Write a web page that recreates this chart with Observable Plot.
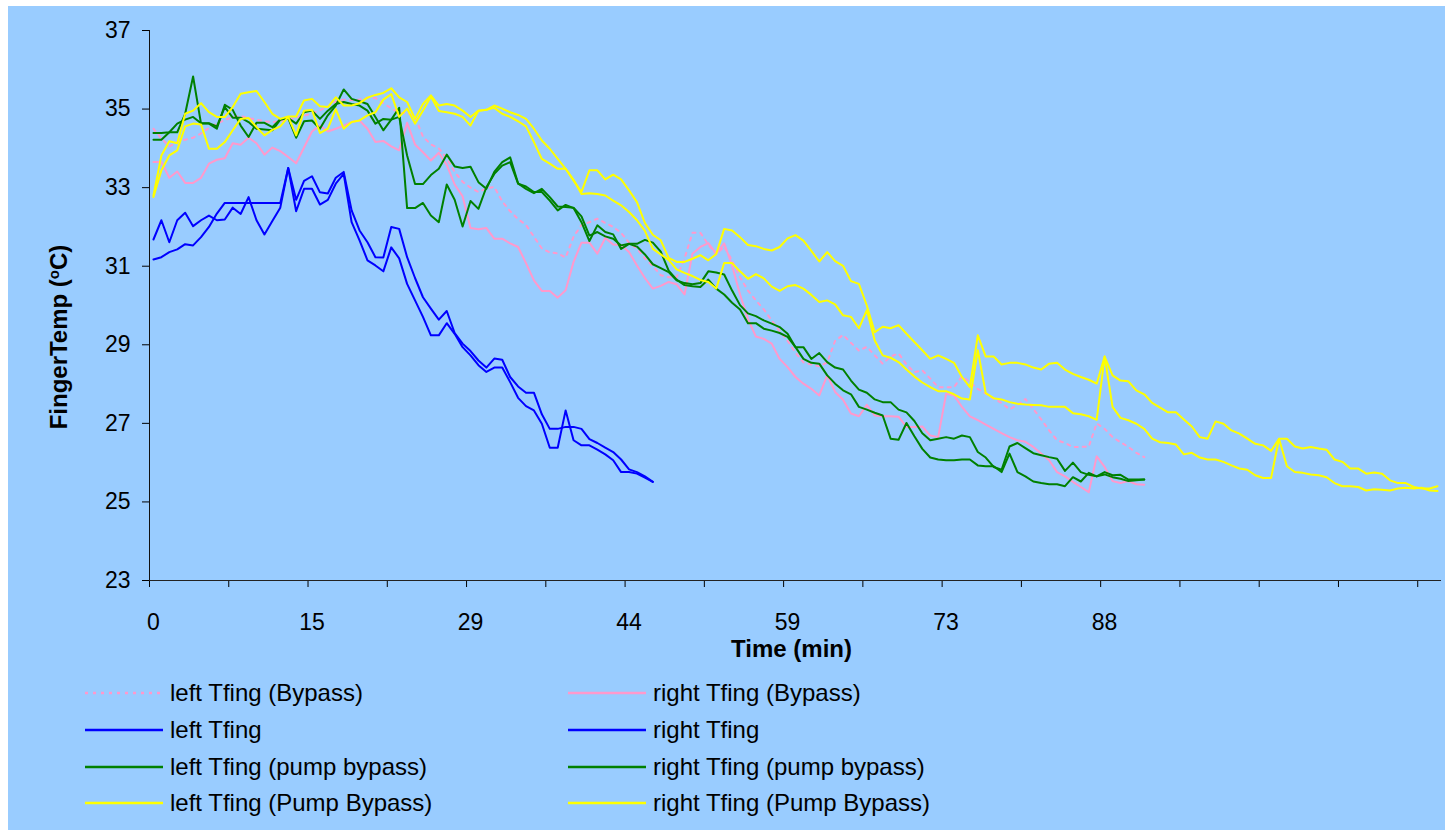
<!DOCTYPE html>
<html><head><meta charset="utf-8">
<script src="https://cdn.jsdelivr.net/npm/d3@7"></script>
<script src="https://cdn.jsdelivr.net/npm/@observablehq/plot@0.6"></script>
<style>
html,body{margin:0;padding:0;background:#fff;}
#chart{position:absolute;left:8px;top:6px;width:1437px;height:824px;background:#99CCFF;overflow:hidden;font-family:"Liberation Sans",Arial,sans-serif;}
#plot{position:absolute;left:0;top:0;}
.leg{position:absolute;display:flex;align-items:center;height:30px;font-size:24px;color:#000;white-space:nowrap;}
.leg svg{margin-right:7px;}
</style></head><body>
<div id="chart"><div id="plot"></div><div id="legend"></div></div>
<script>
// Category axis: one category per sample; labels shown every 20 samples
const xTickCategories = [0, 20, 40, 60, 80, 100, 120];
const xTickLabels = ["0", "15", "29", "44", "59", "73", "88"];
const yTicks = [23, 25, 27, 29, 31, 33, 35, 37];

const leftBypass = [34.50,34.25,34.05,34.16,34.22,34.27,34.38,34.52,34.63,34.72,
 34.80,34.82,34.77,34.73,34.69,34.67,34.69,34.73,34.78,34.83,
 34.89,34.97,35.06,35.19,35.24,35.23,35.24,35.29,35.28,35.15,
 35.02,34.90,34.90,34.80,34.30,34.10,34.00,33.75,33.40,33.15,
 33.00,32.89,32.98,33.02,32.65,32.40,32.20,32.05,31.75,31.45,
 31.35,31.33,31.22,31.75,32.05,32.12,32.21,32.10,32.00,31.85,
 31.60,31.45,31.20,31.00,30.77,30.72,30.72,31.20,31.85,31.85,
 31.55,31.30,31.50,31.15,30.72,30.38,30.13,29.90,29.62,29.35,
 29.10,28.80,28.55,28.50,28.45,28.55,29.10,29.25,29.05,28.85,
 28.95,28.73,28.52,28.70,28.78,28.50,28.30,28.35,28.14,27.92,
 27.92,27.92,28.20,28.05,27.88,27.76,27.63,27.52,27.36,27.46,
 27.62,27.37,27.10,26.82,26.57,26.50,26.40,26.40,26.41,27.00,
 26.86,26.65,26.52,26.40,26.25,26.14];

const rightBypass = [33.65,33.65,33.25,33.41,33.12,33.12,33.25,33.61,33.71,33.75,
 34.13,34.09,34.27,34.13,33.84,34.02,33.93,33.78,33.62,34.02,
 34.43,34.58,34.43,34.50,34.58,34.67,34.71,34.50,34.16,34.19,
 34.05,33.95,34.65,34.10,33.90,33.69,33.89,33.58,33.08,32.78,
 31.97,31.94,31.97,31.70,31.70,31.58,31.49,31.08,30.64,30.37,
 30.37,30.20,30.39,31.11,31.60,31.60,31.32,31.72,31.55,31.54,
 31.36,31.02,30.70,30.43,30.50,30.60,30.54,30.28,31.32,31.49,
 31.59,31.32,31.58,31.02,30.28,29.66,29.21,29.15,29.03,28.64,
 28.43,28.18,28.01,27.88,27.71,28.22,27.80,27.60,27.25,27.18,
 27.47,27.20,27.18,27.18,27.17,26.91,26.91,26.92,26.69,26.65,
 27.75,27.71,27.42,27.18,27.08,26.97,26.86,26.75,26.65,26.57,
 26.53,26.40,26.23,26.06,25.76,25.65,25.51,25.38,25.25,26.16,
 25.89,25.53,25.48,25.53,25.45,25.44];

const leftTfing = [31.68,32.17,31.61,32.17,32.36,32.02,32.17,32.29,32.17,32.19,
 32.49,32.33,32.76,32.17,31.81,32.15,32.49,33.50,32.69,33.17,
 33.29,32.88,32.85,33.25,33.40,32.42,31.91,31.61,31.23,31.22,
 32.00,31.95,31.23,30.70,30.21,29.92,29.64,29.86,29.30,29.03,
 28.84,28.60,28.42,28.65,28.62,28.18,27.94,27.78,27.78,27.23,
 26.86,26.86,26.91,26.91,26.86,26.60,26.50,26.38,26.27,26.08,
 25.83,25.76,25.65,25.51];

const rightTfing = [31.17,31.23,31.36,31.43,31.56,31.53,31.74,32.00,32.34,32.61,
 32.61,32.61,32.61,32.61,32.61,32.61,32.61,33.50,32.40,32.97,
 32.97,32.57,32.69,33.10,33.35,32.12,31.66,31.15,31.02,30.87,
 31.48,31.20,30.55,30.13,29.71,29.24,29.24,29.55,29.28,28.94,
 28.73,28.48,28.31,28.42,28.42,28.05,27.65,27.44,27.33,26.99,
 26.38,26.38,27.33,26.57,26.44,26.44,26.33,26.21,26.06,25.76,
 25.76,25.72,25.62,25.51];

const leftPump = [34.22,34.22,34.41,34.41,34.88,35.83,34.63,34.63,34.50,35.11,
 34.98,34.58,34.29,34.65,34.65,34.54,34.74,34.77,34.27,34.69,
 34.71,34.50,34.84,35.09,35.50,35.26,35.20,35.13,34.80,34.46,
 34.73,35.03,32.48,32.48,32.61,32.29,32.12,33.08,32.69,32.01,
 32.66,32.46,33.01,33.35,33.56,33.65,33.10,33.03,32.89,32.89,
 32.67,32.42,32.56,32.48,32.12,31.64,32.04,31.87,31.81,31.44,
 31.57,31.57,31.67,31.60,31.37,30.89,30.66,30.52,30.49,30.47,
 30.66,30.43,30.28,30.07,29.90,29.55,29.55,29.41,29.36,29.30,
 29.20,28.94,28.94,28.64,28.79,28.56,28.42,28.37,28.09,27.86,
 27.78,27.61,27.54,27.54,27.35,27.28,27.06,26.75,26.57,26.61,
 26.65,26.61,26.69,26.65,26.27,26.13,25.89,25.82,26.41,26.50,
 26.37,26.24,26.19,26.14,26.10,25.79,26.00,25.76,25.69,25.65,
 25.76,25.68,25.69,25.57,25.57,25.57];

const rightPump = [34.39,34.39,34.41,34.63,34.73,34.80,34.64,34.64,34.56,35.05,
 34.78,34.78,34.67,34.50,34.48,34.46,34.73,34.77,34.63,34.92,
 34.96,34.75,34.96,35.13,35.18,35.13,35.09,34.96,34.63,34.75,
 34.73,34.80,33.82,33.09,33.09,33.32,33.48,33.84,33.54,33.50,
 33.53,33.14,32.97,33.40,33.65,33.77,33.11,32.97,32.86,32.97,
 32.76,32.52,32.51,32.49,32.27,31.78,31.87,31.76,31.70,31.53,
 31.57,31.50,31.30,31.05,30.95,30.85,30.64,30.57,30.54,30.57,
 30.87,30.84,30.79,30.38,30.01,29.80,29.73,29.62,29.54,29.45,
 29.28,28.94,28.64,28.54,28.52,28.22,28.01,27.84,27.74,27.42,
 27.35,27.27,27.20,26.61,26.58,27.01,26.67,26.35,26.13,26.08,
 26.06,26.06,26.08,26.08,25.93,25.91,25.91,25.76,26.23,25.76,
 25.65,25.52,25.48,25.45,25.45,25.40,25.63,25.52,25.74,25.65,
 25.70,25.63,25.59,25.53,25.55,25.57];

const leftPumpB = [32.80,33.82,34.18,34.13,34.88,34.96,35.15,34.92,34.80,34.80,
 35.05,35.39,35.43,35.46,35.18,34.88,34.75,34.81,34.81,35.22,
 35.26,35.07,35.05,35.30,35.09,35.09,35.15,35.29,35.36,35.41,
 35.53,35.30,35.18,34.75,35.13,35.35,35.09,35.13,35.09,34.96,
 34.80,34.96,34.98,35.09,35.01,34.92,34.85,34.75,34.50,34.20,
 33.99,33.73,33.48,33.18,32.89,33.44,33.44,33.21,33.33,33.21,
 32.93,32.63,32.10,31.80,31.66,31.21,31.11,31.11,31.19,31.28,
 31.15,31.31,31.95,31.91,31.74,31.54,31.51,31.44,31.40,31.49,
 31.71,31.79,31.65,31.39,31.12,31.36,31.13,31.01,30.62,30.55,
 30.00,29.32,29.46,29.42,29.50,29.28,29.07,28.86,28.64,28.73,
 28.64,28.54,28.18,27.92,29.24,28.70,28.70,28.50,28.54,28.54,
 28.50,28.42,28.37,28.52,28.54,28.37,28.26,28.18,28.11,28.01,
 28.70,28.22,28.09,28.07,27.84,27.74,27.52,27.40,27.28,27.28,
 27.10,26.92,26.65,26.61,27.05,26.99,26.82,26.74,26.61,26.48,
 26.44,26.30,26.61,26.61,26.41,26.36,26.40,26.36,26.33,26.08,
 26.02,25.85,25.85,25.72,25.75,25.72,25.55,25.48,25.48,25.38,
 25.34,25.34,25.40];

const rightPumpB = [32.76,33.44,33.82,33.95,34.56,34.63,34.61,33.99,33.99,34.16,
 34.46,34.75,34.77,34.54,34.33,34.47,34.56,34.80,34.33,34.96,
 34.98,34.39,34.50,35.00,34.50,34.67,34.71,34.84,34.92,35.24,
 35.38,34.80,35.01,34.63,34.96,35.32,34.95,34.92,34.88,34.80,
 34.58,34.96,34.98,35.03,34.88,34.80,34.69,34.56,34.16,33.73,
 33.61,33.48,33.48,33.20,32.84,32.86,32.84,32.80,32.67,32.55,
 32.38,32.17,31.90,31.44,31.30,31.16,30.92,30.83,30.75,30.65,
 30.60,30.43,31.08,31.08,30.87,30.68,30.80,30.69,30.48,30.37,
 30.49,30.52,30.43,30.27,30.09,30.13,30.03,29.75,29.71,29.42,
 29.88,29.11,28.73,28.67,28.56,28.37,28.19,28.04,27.92,27.82,
 27.82,27.74,27.63,27.61,28.86,27.77,27.64,27.61,27.54,27.50,
 27.48,27.47,27.46,27.42,27.42,27.42,27.26,27.23,27.18,27.09,
 28.70,27.42,27.14,27.08,26.99,26.86,26.61,26.52,26.50,26.46,
 26.21,26.25,26.13,26.08,26.08,26.02,25.93,25.85,25.82,25.68,
 25.61,25.61,26.61,25.91,25.76,25.74,25.70,25.68,25.63,25.48,
 25.40,25.40,25.38,25.29,25.32,25.31,25.29,25.34,25.36,25.34,
 25.36,25.29,25.28];

const categoryCount = 163;
const tickEvery = 10;

const PINK = "#FF99CC", BLUE = "#0000FF", GREEN = "#008000", YELLOW = "#FFFF00";
const series = [
  {name: "left Tfing (Bypass)", values: leftBypass, color: PINK, dash: "3,5"},
  {name: "right Tfing (Bypass)", values: rightBypass, color: PINK, dash: null},
  {name: "left Tfing", values: leftTfing, color: BLUE, dash: null},
  {name: "right Tfing", values: rightTfing, color: BLUE, dash: null},
  {name: "left Tfing (pump bypass)", values: leftPump, color: GREEN, dash: null},
  {name: "right Tfing (pump bypass)", values: rightPump, color: GREEN, dash: null},
  {name: "left Tfing (Pump Bypass)", values: leftPumpB, color: YELLOW, dash: null},
  {name: "right Tfing (Pump Bypass)", values: rightPumpB, color: YELLOW, dash: null}
];

const boundaries = d3.range(0, categoryCount - 2, tickEvery).map(k => k - 0.5);

const plot = Plot.plot({
  width: 1437,
  height: 660,
  marginLeft: 141,
  marginRight: 4,
  marginTop: 24,
  marginBottom: 86,
  style: {background: "transparent", fontFamily: "'Liberation Sans', Arial, sans-serif", fontSize: "23px", color: "#000", overflow: "visible"},
  x: {domain: [-0.5, categoryCount - 0.5]},
  y: {domain: [23, 37]},
  marks: [
    Plot.axisY({ticks: yTicks, tickSize: 7, tickPadding: 12, fontSize: 23, label: null, tickFormat: d => String(d)}),
    Plot.axisX({ticks: boundaries, tickSize: 7, tickFormat: () => "", label: null}),
    Plot.axisX({ticks: xTickCategories, tickSize: 0, tickPadding: 33, fontSize: 23, label: null,
      tickFormat: d => xTickLabels[xTickCategories.indexOf(d)]}),
    Plot.ruleY([23], {stroke: "#222", strokeWidth: 1}),
    Plot.ruleX([-0.5], {stroke: "#111", strokeWidth: 1}),
    ...series.map(s => Plot.line(s.values, {
      x: (d, i) => i, y: d => d, stroke: s.color, strokeWidth: 2,
      strokeDasharray: s.dash || undefined, strokeLinejoin: "round"
    })),
    Plot.text(["Time (min)"], {text: d => d, frameAnchor: "bottom", dx: -4, dy: 76, fontWeight: "bold", fontSize: 24})
  ]
});
document.getElementById("plot").appendChild(plot);

// Y axis title with superscript "o"
const svg = d3.select(plot.tagName.toLowerCase() === "svg" ? plot : plot.querySelector("svg"));
const yt = svg.append("text")
  .attr("transform", "translate(51,331) rotate(-90)")
  .attr("text-anchor", "middle")
  .attr("dy", "0.35em")
  .attr("font-weight", "bold")
  .attr("font-size", 24)
  .attr("fill", "#000");
yt.append("tspan").text("FingerTemp (");
yt.append("tspan").attr("font-size", 15).attr("baseline-shift", "super").text("o");
yt.append("tspan").text("C)");

// Legend (two columns, Excel order)
const legend = document.getElementById("legend");
const colX = [77, 560];
const rowY = [687, 724, 761, 797];
series.forEach((s, k) => {
  const div = document.createElement("div");
  div.className = "leg";
  div.style.left = colX[k % 2] + "px";
  div.style.top = (rowY[Math.floor(k / 2)] - 15) + "px";
  const sw = d3.create("svg").attr("width", 78).attr("height", 6);
  sw.append("line").attr("x1", 0).attr("x2", 78).attr("y1", 3).attr("y2", 3)
    .attr("stroke", s.color).attr("stroke-width", 2.5)
    .attr("stroke-dasharray", s.dash);
  div.appendChild(sw.node());
  const t = document.createElement("span");
  t.textContent = s.name;
  div.appendChild(t);
  legend.appendChild(div);
});
</script></body></html>
